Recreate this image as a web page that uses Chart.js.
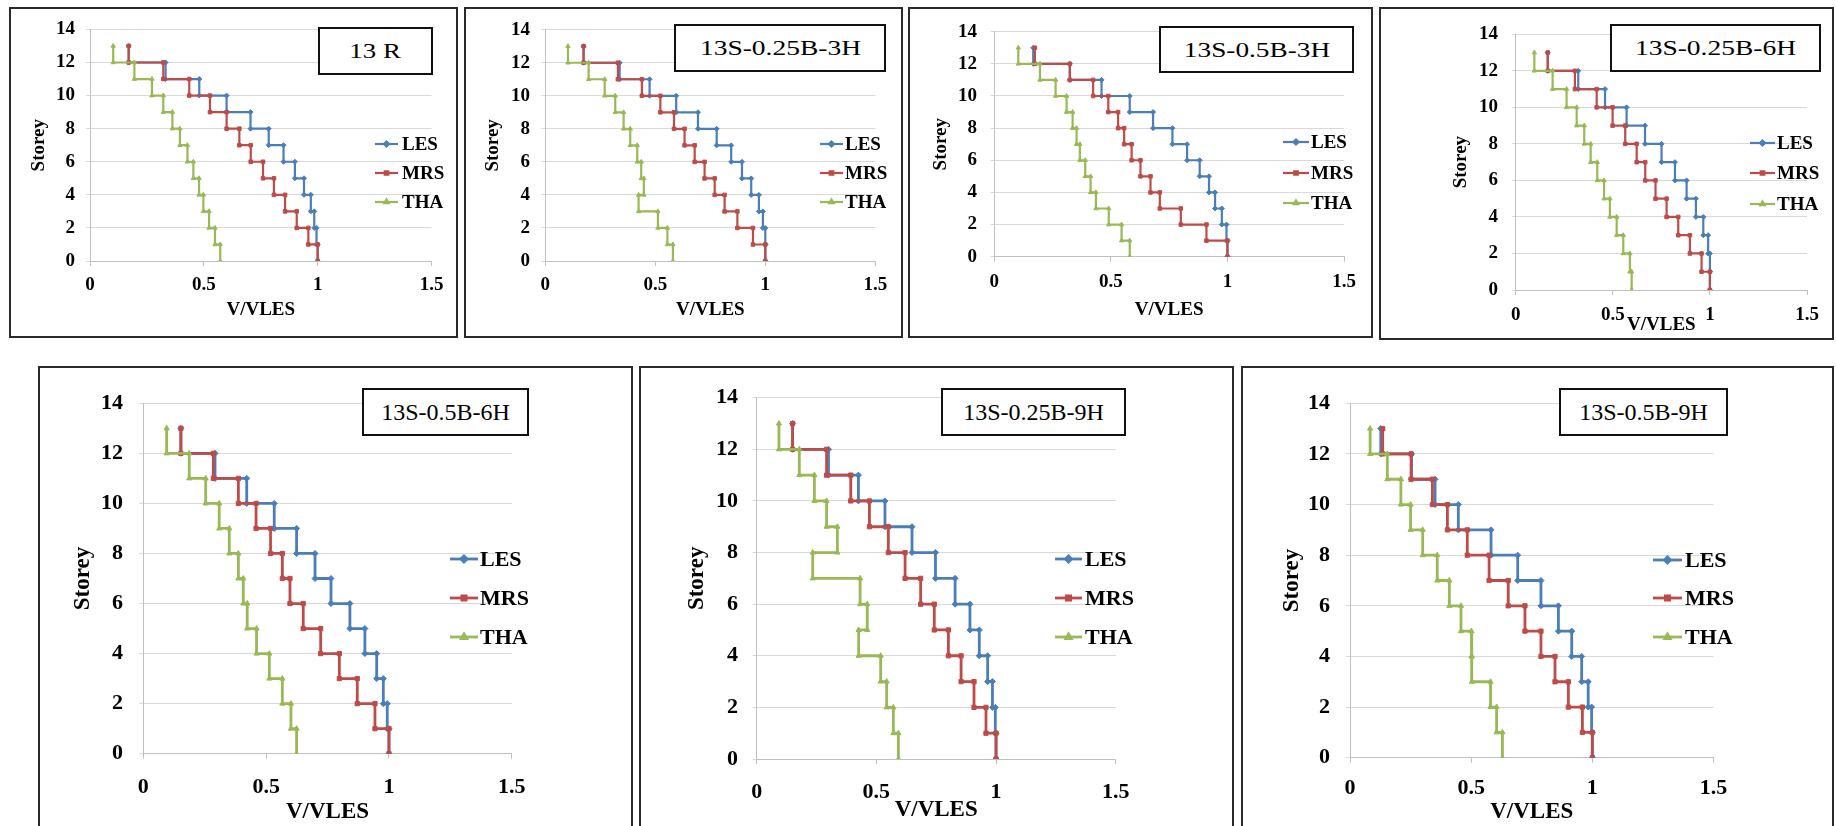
<!DOCTYPE html>
<html><head><meta charset="utf-8">
<script src="https://cdn.jsdelivr.net/npm/chart.js@4.4.1/dist/chart.umd.min.js"></script>
<style>
html,body{margin:0;padding:0;background:#fff;overflow:hidden;width:1836px;height:826px;}
.panel{position:absolute;}
.frame{position:absolute;border:2px solid #2a2a2a;box-sizing:border-box;pointer-events:none;}
.tbox{position:absolute;border:2px solid #111;background:#fff;box-sizing:border-box;display:flex;align-items:center;justify-content:center;font-family:"Liberation Serif","Times New Roman",serif;color:#000;white-space:nowrap;overflow:visible;}
.tbox span{display:inline-block;}
</style></head><body>
<script>
// ---------------- DATA ----------------
const storeys = [13,12,11,10,9,8,7,6,5,4,3,2,1];           // storey of each value (top to bottom)
const panelNames = ["13 R","13S-0.25B-3H","13S-0.5B-3H","13S-0.25B-6H","13S-0.5B-6H","13S-0.25B-9H","13S-0.5B-9H"];
const seriesNames = ["LES","MRS","THA"];
const xTickValues = [0,0.5,1,1.5];
const yTickValues = [0,2,4,6,8,10,12,14];
const xTitle = "V/VLES";
const yTitle = "Storey";

// V/VLES per storey, storey 13 -> storey 1
const les_13R   = [0.170,0.332,0.480,0.600,0.705,0.785,0.850,0.900,0.940,0.970,0.985,0.995,1.000];
const mrs_13R   = [0.170,0.322,0.436,0.527,0.600,0.656,0.706,0.760,0.808,0.857,0.908,0.959,1.000];
const tha_13R   = [0.102,0.195,0.272,0.322,0.362,0.395,0.428,0.454,0.479,0.498,0.523,0.549,0.572];

const les_025B3H = [0.174,0.338,0.474,0.595,0.694,0.779,0.845,0.894,0.936,0.971,0.989,1.000,1.000];
const mrs_025B3H = [0.174,0.330,0.439,0.523,0.585,0.633,0.679,0.724,0.770,0.815,0.873,0.944,1.000];
const tha_025B3H = [0.103,0.197,0.270,0.318,0.356,0.386,0.418,0.436,0.448,0.424,0.512,0.555,0.580];

const les_05B3H = [0.167,0.324,0.460,0.581,0.681,0.764,0.827,0.881,0.921,0.947,0.976,0.996,1.000];
const mrs_05B3H = [0.174,0.324,0.424,0.489,0.531,0.557,0.589,0.627,0.670,0.710,0.800,0.910,1.000];
const tha_05B3H = [0.103,0.196,0.263,0.310,0.336,0.353,0.367,0.390,0.413,0.436,0.491,0.546,0.581];

const les_025B6H = [0.165,0.322,0.460,0.571,0.666,0.751,0.820,0.880,0.928,0.966,0.991,1.000,1.000];
const mrs_025B6H = [0.165,0.305,0.417,0.499,0.564,0.623,0.667,0.720,0.777,0.837,0.897,0.957,1.000];
const tha_025B6H = [0.096,0.190,0.262,0.314,0.353,0.386,0.420,0.455,0.485,0.520,0.554,0.588,0.597];

const les_05B6H = [0.153,0.292,0.421,0.533,0.624,0.699,0.764,0.841,0.902,0.950,0.977,0.993,1.000];
const mrs_05B6H = [0.153,0.285,0.387,0.459,0.518,0.566,0.597,0.651,0.722,0.798,0.871,0.943,1.000];
const tha_05B6H = [0.095,0.187,0.254,0.309,0.350,0.387,0.407,0.423,0.461,0.513,0.566,0.601,0.624];

const les_025B9H = [0.150,0.300,0.425,0.536,0.649,0.747,0.829,0.891,0.930,0.965,0.985,0.997,1.000];
const mrs_025B9H = [0.150,0.292,0.393,0.471,0.550,0.620,0.685,0.742,0.801,0.854,0.908,0.958,1.000];
const tha_025B9H = [0.093,0.178,0.241,0.292,0.337,0.234,0.432,0.462,0.426,0.518,0.543,0.571,0.592];

const les_05B9H = [0.127,0.254,0.351,0.447,0.582,0.692,0.788,0.860,0.915,0.956,0.983,0.997,1.000];
const mrs_05B9H = [0.135,0.252,0.340,0.402,0.484,0.574,0.653,0.722,0.788,0.846,0.901,0.959,1.000];
const tha_05B9H = [0.083,0.154,0.210,0.250,0.300,0.360,0.410,0.458,0.501,0.503,0.580,0.605,0.629];

const panelSeries = [
  [les_13R, mrs_13R, tha_13R],
  [les_025B3H, mrs_025B3H, tha_025B3H],
  [les_05B3H, mrs_05B3H, tha_05B3H],
  [les_025B6H, mrs_025B6H, tha_025B6H],
  [les_05B6H, mrs_05B6H, tha_05B6H],
  [les_025B9H, mrs_025B9H, tha_025B9H],
  [les_05B9H, mrs_05B9H, tha_05B9H]
];

// ---------------- STYLE / LAYOUT ----------------
const seriesColors = ["#4a7ebb","#be4b48","#98b954"];
const seriesPoints = ["rectRot","rect","triangle"];
const FONT = '"Liberation Serif","Times New Roman",serif';

const layoutCfg = [
 {L:9,T:7,R:458,B:338, ca:[90,25,431.5,261], yLabR:75, xLabY:285, yTitleX:39, xTitleY:310, leg:[375,398,402,144,173,202], box:[318,27,433,75], bf:22, bs:1.22, tk:19, at:19, lf:19, lw:2.2, pr:2.5},
 {L:464,T:7,R:903,B:338, ca:[545.3,25,875.3,261], yLabR:530, xLabY:285, yTitleX:493, xTitleY:310, leg:[820,843,845,144,173,202], box:[674,24,886,72], bf:22, bs:1.25, tk:19, at:19, lf:19, lw:2.2, pr:2.5},
 {L:908,T:7,R:1373,B:338, ca:[994.3,26,1344,256.7], yLabR:977, xLabY:282, yTitleX:941, xTitleY:310, leg:[1283,1309,1311,142,173,203], box:[1159,26,1354,73], bf:22, bs:1.24, tk:19, at:19, lf:19, lw:2.2, pr:2.5},
 {L:1379,T:7,R:1834,B:340, ca:[1515.7,34.3,1807,290], yLabR:1498, xLabY:315, yTitleX:1461, xTitleY:325, leg:[1750,1775,1777,143,173,204], box:[1610,24,1821,72], bf:22, bs:1.25, tk:19, at:19, lf:19, lw:2.2, pr:2.5},
 {L:38,T:366,R:633,B:828, ca:[143.3,403.3,511.8,753.7], yLabR:123, xLabY:787, yTitleX:83, xTitleY:812, leg:[450,478,480,559,598,637], box:[362,388,529,436], bf:24, bs:1, tk:22, at:23, lf:22, lw:2.8, pr:3},
 {L:639,T:366,R:1234,B:828, ca:[756.7,397.7,1115.7,759], yLabR:738, xLabY:792, yTitleX:697, xTitleY:810, leg:[1055,1082,1085,559,598,637], box:[941,388,1126,436], bf:24, bs:1, tk:22, at:23, lf:22, lw:2.8, pr:3},
 {L:1241,T:366,R:1834,B:828, ca:[1350,403.3,1713.5,757.7], yLabR:1330, xLabY:788, yTitleX:1292, xTitleY:812, leg:[1653,1682,1685,560,598,637], box:[1559,388,1728,436], bf:24, bs:1, tk:22, at:23, lf:22, lw:2.8, pr:3}
];

function stepPoints(vals){
  const pts = [];
  vals.forEach((v,i)=>{ const s = storeys[i]; pts.push({x:v,y:s}); pts.push({x:v,y:s-1}); });
  return pts;
}

const legendPlugin = {
  id:'panelLegend',
  afterDraw(chart, args, opts){
    const ctx = chart.ctx;
    ctx.save();
    chart.data.datasets.forEach((ds,i)=>{
      const y = opts.ys[i];
      ctx.strokeStyle = ds.borderColor; ctx.lineWidth = ds.borderWidth;
      ctx.beginPath(); ctx.moveTo(opts.x1,y); ctx.lineTo(opts.x2,y); ctx.stroke();
      ctx.fillStyle = ds.borderColor;
      if (Chart.helpers && Chart.helpers.drawPoint) {
        Chart.helpers.drawPoint(ctx,{pointStyle:ds.pointStyle,rotation:0,radius:ds.pointRadius,borderWidth:1},(opts.x1+opts.x2)/2,y);
      }
      ctx.fillStyle = '#000';
      ctx.font = 'bold '+opts.size+'px '+FONT;
      ctx.textAlign = 'left'; ctx.textBaseline = 'middle';
      ctx.fillText(ds.label, opts.tx, y+1);
    });
    ctx.restore();
  }
};

layoutCfg.forEach((c,p)=>{
  const W = c.R-c.L, H = c.B-c.T;
  const wrap = document.createElement('div');
  wrap.className='panel';
  wrap.style.cssText = `left:${c.L}px;top:${c.T}px;width:${W}px;height:${H}px;`;
  const cv = document.createElement('canvas');
  cv.width = W; cv.height = H;
  wrap.appendChild(cv);
  document.body.appendChild(wrap);

  const frame = document.createElement('div');
  frame.className='frame';
  frame.style.cssText = `left:${c.L}px;top:${c.T}px;width:${W}px;height:${H}px;`;
  document.body.appendChild(frame);

  const tb = document.createElement('div');
  tb.className='tbox';
  tb.style.cssText = `left:${c.box[0]}px;top:${c.box[1]}px;width:${c.box[2]-c.box[0]}px;height:${c.box[3]-c.box[1]}px;font-size:${c.bf}px;`;
  const sp = document.createElement('span');
  sp.textContent = panelNames[p];
  sp.style.transform = `scaleX(${c.bs})`;
  tb.appendChild(sp);
  document.body.appendChild(tb);

  const [cl,ct,cr,cb] = c.ca;
  const tlY = 4, tlX = 5;
  const datasets = panelSeries[p].map((vals,i)=>({
    label: seriesNames[i],
    data: stepPoints(vals),
    showLine:true,
    borderColor: seriesColors[i],
    backgroundColor: seriesColors[i],
    pointBackgroundColor: seriesColors[i],
    pointBorderColor: seriesColors[i],
    borderWidth: c.lw,
    pointRadius: c.pr,
    pointBorderWidth: 1,
    pointStyle: seriesPoints[i],
    tension:0,
    order: 3-i
  }));

  new Chart(cv, {
    type:'scatter',
    data:{datasets},
    plugins:[legendPlugin],
    options:{
      responsive:false, animation:false, devicePixelRatio:1,
      events:[],
      layout:{padding:{left:0, top:ct-c.T, right:c.R-cr, bottom:0}},
      plugins:{
        legend:{display:false}, tooltip:{enabled:false},
        panelLegend:{x1:c.leg[0]-c.L, x2:c.leg[1]-c.L, tx:c.leg[2]-c.L, ys:[c.leg[3]-c.T,c.leg[4]-c.T,c.leg[5]-c.T], size:c.lf}
      },
      scales:{
        x:{
          type:'linear', min:0, max:1.5,
          afterBuildTicks:s=>{ s.ticks = xTickValues.map(v=>({value:v})); },
          afterFit:s=>{ s.height = c.B - cb; },
          ticks:{color:'#000', font:{family:FONT,size:c.tk,weight:'bold'}, padding:(c.xLabY-cb)-tlX-0.6*c.tk, maxRotation:0, autoSkip:false, callback:v=>String(v)},
          grid:{drawOnChartArea:false, drawTicks:true, tickLength:tlX, color:'#bfbfbf'},
          border:{display:true, color:'#bfbfbf', width:1},
          title:{display:true, text:xTitle, color:'#000', font:{family:FONT,size:c.at,weight:'bold'}, padding:{top:0,bottom:(c.B-c.xTitleY)-0.6*c.at}}
        },
        y:{
          type:'linear', min:0, max:14,
          afterBuildTicks:s=>{ s.ticks = yTickValues.map(v=>({value:v})); },
          afterFit:s=>{ s.width = cl - c.L; },
          ticks:{color:'#000', font:{family:FONT,size:c.tk,weight:'bold'}, padding:(cl-c.yLabR)-tlY, autoSkip:false, callback:v=>String(v)},
          grid:{color:'#d9d9d9', tickLength:tlY, lineWidth:1},
          border:{display:true, color:'#bfbfbf', width:1},
          title:{display:true, text:yTitle, color:'#000', font:{family:FONT,size:c.at,weight:'bold'}, padding:{top:(c.yTitleX-c.L)-0.6*c.at,bottom:0}}
        }
      }
    }
  });
});
</script>
</body></html>
